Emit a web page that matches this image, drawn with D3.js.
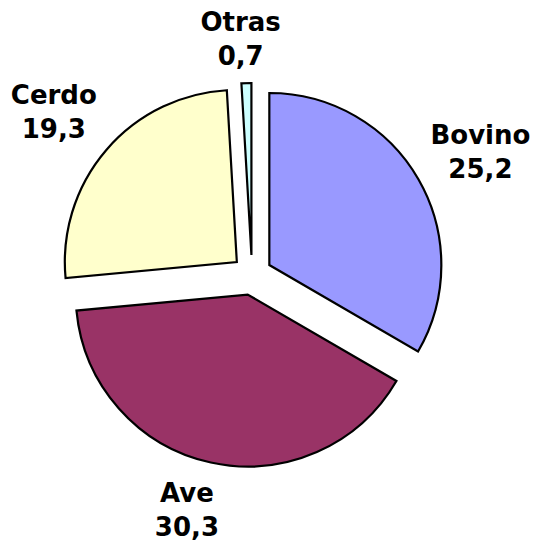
<!DOCTYPE html>
<html>
<head>
<meta charset="utf-8">
<script src="https://cdn.jsdelivr.net/npm/d3@7"></script>
<style>
  body { margin: 0; background: #fff; }
  svg text { font-family: "DejaVu Sans", Verdana, sans-serif; font-weight: bold; }
</style>
</head>
<body>
<div id="chart"></div>
<script>
// datos de la torta
var categorias = ['Bovino', 'Ave', 'Cerdo', 'Otras'];
var valores = [25.2, 30.3, 19.3, 0.7];
var etiquetas = ['25,2', '30,3', '19,3', '0,7'];
var colores = ['#9999FF', '#993366', '#FFFFCC', '#CCFFFF'];

var width = 533, height = 541;
var cx = 252, cy = 275;
var radius = 172;
var explode = 20;
var labelRadius = 252;
var lineGap = 34;

// pequeños ajustes manuales de las etiquetas (como en la hoja original)
var nudge = {'Bovino': [10, 12], 'Ave': [-11, -2], 'Cerdo': [-7, 10], 'Otras': [-4, 1]};

var data = categorias.map(function(c, i) {
    return {name: c, value: valores[i], label: etiquetas[i], color: colores[i]};
});

var svg = d3.select('#chart').append('svg')
    .attr('width', width)
    .attr('height', height);

var g = svg.append('g')
    .attr('transform', 'translate(' + cx + ',' + cy + ')');

var pie = d3.pie().sort(null).value(function(d) { return d.value; });
var arc = d3.arc().innerRadius(0).outerRadius(radius);

var arcs = pie(data);

function dir(d) {
    var a = (d.startAngle + d.endAngle) / 2;
    return [Math.sin(a), -Math.cos(a)];
}

g.selectAll('path')
    .data(arcs)
    .enter()
    .append('path')
    .attr('d', arc)
    .attr('transform', function(d) {
        var v = dir(d);
        return 'translate(' + v[0] * explode + ',' + v[1] * explode + ')';
    })
    .style('fill', function(d) { return d.data.color; })
    .style('stroke', '#000')
    .style('stroke-width', 2.2)
    .style('stroke-linejoin', 'miter');

var labels = g.selectAll('g.lbl')
    .data(arcs)
    .enter()
    .append('g')
    .attr('class', 'lbl')
    .attr('transform', function(d) {
        var v = dir(d);
        var x = v[0] * labelRadius;
        var y = v[1] * labelRadius;
        // no dejar que la etiqueta se salga por arriba
        if (cy + y - lineGap / 2 < 30) y = 30 + lineGap / 2 - cy;
        var n = nudge[d.data.name] || [0, 0];
        return 'translate(' + (x + n[0]) + ',' + (y + n[1]) + ')';
    });

labels.append('text')
    .attr('text-anchor', 'middle')
    .attr('y', -lineGap / 2)
    .attr('font-size', 26)
    .text(function(d) { return d.data.name; });

labels.append('text')
    .attr('text-anchor', 'middle')
    .attr('y', lineGap / 2)
    .attr('font-size', 26)
    .text(function(d) { return d.data.label; });
</script>
</body>
</html>
